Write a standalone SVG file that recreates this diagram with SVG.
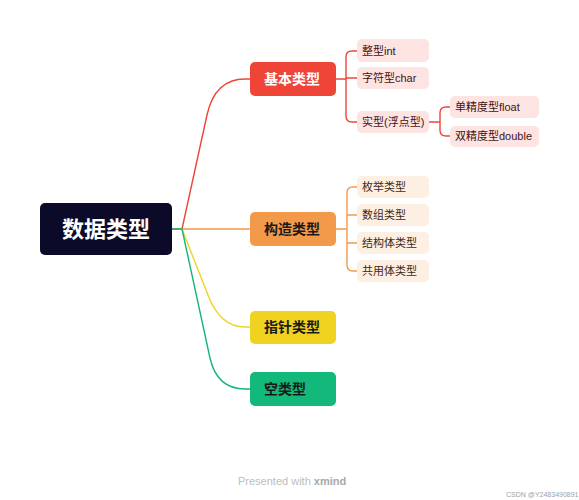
<svg xmlns="http://www.w3.org/2000/svg" width="579" height="500" viewBox="0 0 579 500">
<style>
text{font-family:"Liberation Sans","Noto Sans CJK SC",sans-serif;dominant-baseline:central}
.main{font-size:14px;font-weight:bold}
.sub{font-size:11px}
.red{fill:#ef4438}
.pink{fill:#fde3e1}
.peach{fill:#fdefe2}
.c{fill:none;stroke-width:1.4}
</style>
<rect width="579" height="500" fill="#ffffff"/>
<g id="connectors">
<path class="c" stroke="#ef4438" d="M172,229 L182,229 L207,115 Q215,79 245,79 L250,79"/>
<path class="c" stroke="#f29a4a" d="M172,229 L250,229"/>
<path class="c" stroke="#efd22a" d="M182,229 L208,295 Q220,327 245,327 L250,327"/>
<path class="c" stroke="#14b57a" d="M172,229 L182,229 L210,358 Q217,389 245,389 L250,389"/>
<path class="c" stroke="#ef4438" d="M336,79 L346,79 M357,51 L352,51 Q346,51 346,57 L346,116 Q346,122 352,122 L357,122 M346,78 L357,78"/>
<path class="c" stroke="#ef4438" d="M429,122 L440,122 M450,107 L446,107 Q440,107 440,113 L440,130 Q440,136 446,136 L450,136"/>
<path class="c" stroke="#f29a4a" d="M336,229 L347,229 M357,187 L353,187 Q347,187 347,193 L347,265 Q347,271 353,271 L357,271 M347,215 L357,215 M347,243 L357,243"/>
</g>
<g id="root"><rect x="40" y="203" width="132" height="52" rx="5" fill="#0b0b29"/><text x="106" y="229" font-size="22" font-weight="bold" fill="#ffffff" text-anchor="middle">数据类型</text></g>
<g id="n-basic"><rect x="250" y="62" width="86" height="34" rx="5" class="red"/><text class="main" x="264" y="79" fill="#ffffff">基本类型</text></g>
<g id="n-struct"><rect x="250" y="212" width="86" height="34" rx="5" fill="#f29a4a"/><text class="main" x="264" y="229" fill="#1a1a1a">构造类型</text></g>
<g id="n-pointer"><rect x="250" y="311" width="86" height="33" rx="5" fill="#f0d321"/><text class="main" x="264" y="327" fill="#1a1a1a">指针类型</text></g>
<g id="n-void"><rect x="250" y="372" width="86" height="34" rx="5" fill="#12b97a"/><text class="main" x="264" y="389" fill="#1a1a1a">空类型</text></g>
<g id="n-int"><rect x="357" y="39" width="72" height="23" rx="5" class="pink"/><text class="sub" x="362" y="51" fill="#3f1414">整型int</text></g>
<g id="n-char"><rect x="357" y="67" width="72" height="22" rx="5" class="pink"/><text class="sub" x="362" y="78" fill="#3f1414">字符型char</text></g>
<g id="n-real"><rect x="357" y="111" width="72" height="22" rx="5" class="pink"/><text class="sub" x="362" y="122" fill="#3f1414">实型(浮点型)</text></g>
<g id="n-float"><rect x="450" y="96" width="89" height="22" rx="5" class="pink"/><text class="sub" x="455" y="107" fill="#3f1414">单精度型float</text></g>
<g id="n-double"><rect x="450" y="126" width="89" height="21" rx="5" class="pink"/><text class="sub" x="455" y="136" fill="#3f1414">双精度型double</text></g>
<g id="n-enum"><rect x="357" y="176" width="72" height="22" rx="5" class="peach"/><text class="sub" x="362" y="187" fill="#3d2a18">枚举类型</text></g>
<g id="n-array"><rect x="357" y="204" width="72" height="22" rx="5" class="peach"/><text class="sub" x="362" y="215" fill="#3d2a18">数组类型</text></g>
<g id="n-structure"><rect x="357" y="232" width="72" height="22" rx="5" class="peach"/><text class="sub" x="362" y="243" fill="#3d2a18">结构体类型</text></g>
<g id="n-union"><rect x="357" y="260" width="72" height="22" rx="5" class="peach"/><text class="sub" x="362" y="271" fill="#3d2a18">共用体类型</text></g>
<text x="238" y="481" font-size="11" fill="#bdbdbd">Presented with <tspan font-weight="bold" fill="#a8a8a8">xmind</tspan></text>
<text x="506" y="494" font-size="7" fill="#a0a0a0">CSDN @Y2483490891</text>
</svg>
